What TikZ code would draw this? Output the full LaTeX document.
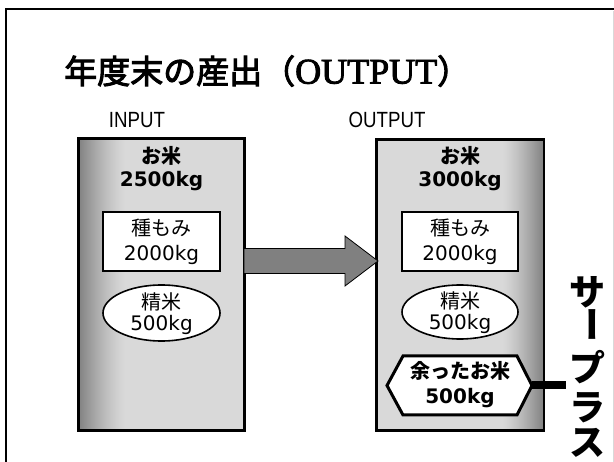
\documentclass[tikz,border=0pt]{standalone}
\usepackage{fontspec}
\setmainfont{DejaVu Sans}
\newfontfamily\jp{Noto Sans CJK JP}
\newfontfamily\jpt[FakeBold=3]{Noto Sans CJK JP}
\newfontfamily\ser[FakeBold=2.5]{Liberation Serif}
\newfontfamily\hel[FakeStretch=0.85]{Liberation Sans}
\usetikzlibrary{calc,shapes.geometric}
\definecolor{boxgray}{HTML}{D9D9D9}
\definecolor{shdark}{HTML}{858585}
\definecolor{arrowgray}{HTML}{808080}
\begin{document}
\begin{tikzpicture}[x=1pt,y=-1pt,
  outerbox/.style={draw, line width=2pt, fill=boxgray, minimum width=165pt, minimum height=291pt, inner sep=0pt},
  boxborder/.style={draw, line width=2pt},
  headtext/.style={align=center, inner sep=0pt, font=\bfseries\fontsize{20}{23}\selectfont},
  seedbox/.style={draw, line width=2pt, fill=white, minimum width=117pt, minimum height=59pt, inner sep=0pt, align=center, font=\fontsize{20}{25}\selectfont},
  riceell/.style={ellipse, draw, line width=1.6pt, fill=white, minimum width=117pt, minimum height=56pt, inner sep=0pt},
  ricetext/.style={align=center, inner sep=0pt, font=\fontsize{20}{21}\selectfont},
  hexline/.style={draw, line width=3pt, fill=white, line join=miter},
  hextext/.style={align=center, inner sep=0pt, font=\bfseries\fontsize{20}{25}\selectfont},
  vtext/.style={inner sep=0pt, font=\jp\bfseries\fontsize{36}{36}\selectfont},
  label/.style={inner sep=0pt, font=\hel\fontsize{22}{22}\selectfont},
  bigarrow/.style={draw=black, line width=0.8pt, fill=arrowgray, line join=miter},
  connector/.style={line width=8pt}
]
\useasboundingbox (0,0) rectangle (614,462);
\fill[white] (0,0) rectangle (614,462);
% frame
\draw[line width=2.5pt] (6,480) -- (6,9) -- (620,9);
\draw[black!15, line width=1pt] (613,11) -- (613,470);
% title
\node[anchor=west, inner sep=0pt] (title) at (64,71) {\fontsize{33}{33}\selectfont\jpt 年度末の産出（{\ser\fontsize{36}{36}\selectfont OUTPUT}）};
% labels
\node[label] (inL) at (137,120) {INPUT};
\node[label] (outL) at (387,120) {OUTPUT};
% left box
\node[outerbox] (L) at (161.5,284.5) {};
\foreach \i in {0,...,44} {
  \pgfmathsetmacro\p{100*(1-\i/45)^1.3}
  \fill[shdark!\p!boxgray] (80+\i,140) rectangle (81.2+\i,429);
}
\draw[boxborder] (L.south west) rectangle (L.north east);
\node[headtext] (Lh) at (161.5,169) {{\jp お米}\\2500kg};
\node[seedbox] (Ls) at (161.5,241.5) {{\jp 種もみ}\\2000kg};
\node[riceell] (Le) at (161.5,313) {};
\node[ricetext] (Lt) at (161.5,314) {{\jp 精米}\\500kg};
% right box
\node[outerbox, minimum width=166pt, minimum height=290pt] (R) at (460,285) {};
\foreach \i in {0,...,39} {
  \pgfmathsetmacro\p{100*(1-\i/40)^1.3}
  \fill[shdark!\p!boxgray] (541.8-\i,141) rectangle (543-\i,429);
}
\draw[boxborder] (R.south west) rectangle (R.north east);
\node[headtext] (Rh) at (460,169) {{\jp お米}\\3000kg};
\node[seedbox, minimum width=116pt] (Rs) at (460,241.5) {{\jp 種もみ}\\2000kg};
\node[riceell, minimum width=116pt, minimum height=54pt] (Re) at (460,312) {};
\node[ricetext] (Rt) at (460,313) {{\jp 精米}\\500kg};
% hexagon
\coordinate (hc) at (460,385.5);
\draw[hexline] ($(hc)+(-73,0)$) -- ($(hc)+(-57,-29.5)$) -- ($(hc)+(57,-29.5)$) -- ($(hc)+(72,0)$) -- ($(hc)+(57,29.5)$) -- ($(hc)+(-57,29.5)$) -- cycle;
\node[hextext] (Rx) at (460,385) {{\jp 余ったお米}\\500kg};
\coordinate (hxTip) at ($(hc)+(72,0)$);
\coordinate (spEnd) at (566,385.5);
\draw[connector] (hxTip) -- (spEnd);
% big arrow
\coordinate (aS) at (244,261);
\coordinate (aT) at (378,261);
\draw[bigarrow] (aS) ++(0,-12.5) -- ++(101,0) -- ++(0,-12.5) -- (aT) -- ($(aS)+(101,25)$) -- ++(0,-12.5) -- ($(aS)+(0,12.5)$) -- cycle;
% vertical text
\node[vtext] (s1) at (587,292) {サ};
\node[vtext, rotate=-90] (s2) at (587,325) {ー};
\node[vtext] (s3) at (587,367) {プ};
\node[vtext] (s4) at (587,408) {ラ};
\node[vtext] (s5) at (587,443) {ス};
\end{tikzpicture}
\end{document}
